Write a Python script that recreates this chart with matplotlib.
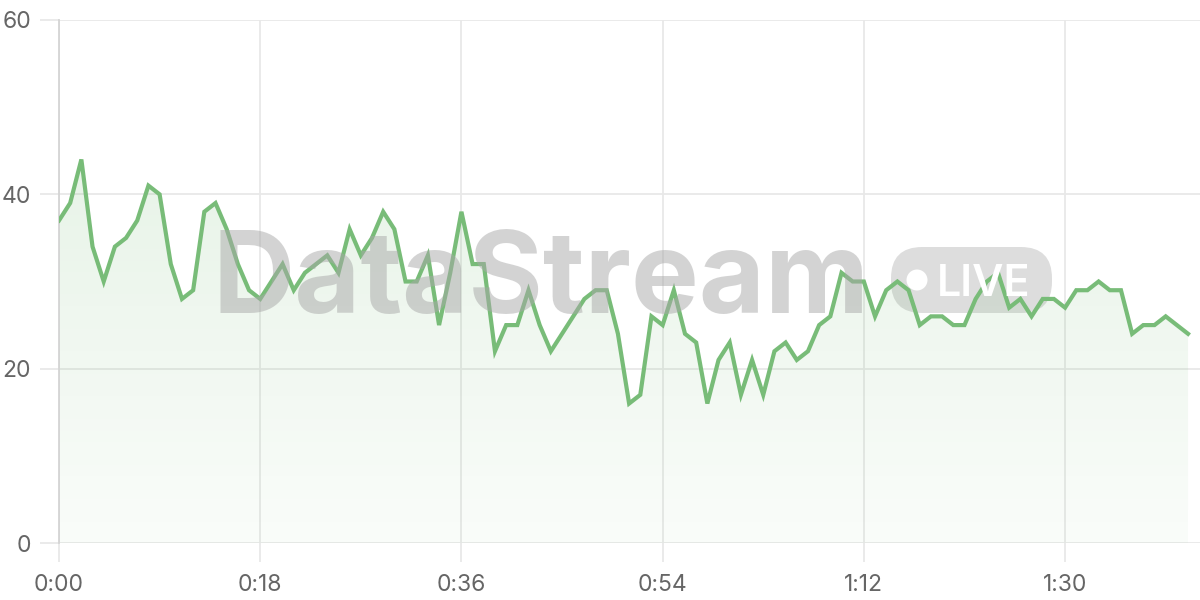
import numpy as np
import matplotlib
matplotlib.use("Agg")
import matplotlib.pyplot as plt
from matplotlib.patches import FancyBboxPatch, Ellipse, Polygon
from matplotlib.colors import LinearSegmentedColormap

# ======================================================
# DATA
# ======================================================

seconds = list(range(102))

values = [
    37, 39, 44, 34, 30, 34, 35, 37, 41, 40,
    32, 28, 29, 38, 39, 36, 32, 29, 28, 30,
    32, 29, 31, 32, 33, 31, 36, 33, 35, 38,
    36, 30, 30, 33, 25, 31, 38, 32, 32, 22,
    25, 25, 29, 25, 22, 24, 26, 28, 29, 29,
    24, 16, 17, 26, 25, 29, 24, 23, 16, 21,
    23, 17, 21, 17, 22, 23, 21, 22, 25, 26,
    31, 30, 30, 26, 29, 30, 29, 25, 26, 26,
    25, 25, 28, 30, 31, 27, 28, 26, 28, 28,
    27, 29, 29, 30, 29, 29, 24, 25, 25, 26,
    25, 24
]

x_ticks = [0, 18, 36, 54, 72, 90]
y_ticks = [0, 20, 40, 60]

LINE = "#78bc78"
GRID = "#e8e8e8"
TEXT = "#666666"

plt.rcParams["font.family"] = ["Inter", "DejaVu Sans"]

# ======================================================
# FIGURE
# ======================================================

fig = plt.figure(figsize=(12, 6), dpi=100)
ax = fig.add_axes([59 / 1200, 57 / 600, 1141 / 1200, 523 / 600])

ax.set_xlim(0, 102.07)
ax.set_ylim(0, 60)

# watermark (behind the fill)
fig.text(541 / 1200, 1 - 313 / 600, "DataStream", fontsize=82,
         fontweight="bold", color="#a8a8a8", alpha=0.5,
         ha="center", va="baseline", zorder=0)

pill = FancyBboxPatch((891 / 1200, 1 - 313 / 600), 161 / 1200, 66 / 600,
                      boxstyle="round,pad=0,rounding_size=0.026",
                      mutation_aspect=2, transform=fig.transFigure,
                      facecolor="#bcbcbc", edgecolor="none", alpha=0.5,
                      zorder=0)
fig.add_artist(pill)
fig.add_artist(Ellipse((917 / 1200, 1 - 280 / 600), 21 / 1200, 21 / 600,
                       transform=fig.transFigure, facecolor="white",
                       edgecolor="none", zorder=0.5))
fig.text(937 / 1200, 1 - 296 / 600, "LIVE", fontsize=31,
         fontweight="semibold", color="white", ha="left",
         va="baseline", zorder=0.6)

ax.patch.set_alpha(0)

# gradient fill under the line
gradient = LinearSegmentedColormap.from_list(
    "fade", [(0.47, 0.74, 0.47, 0.04), (0.47, 0.74, 0.47, 0.22)])
img = ax.imshow(np.linspace(0, 1, 256).reshape(-1, 1), cmap=gradient,
                extent=[0, seconds[-1], 0, 60], origin="lower",
                aspect="auto", zorder=1)
poly = Polygon(list(zip(seconds, values)) + [(seconds[-1], 0), (0, 0)],
               closed=True, facecolor="none", edgecolor="none")
ax.add_patch(poly)
img.set_clip_path(poly)

ax.plot(seconds, values, color=LINE, linewidth=3, zorder=3,
        solid_joinstyle="miter")

# ======================================================
# AXES
# ======================================================

ax.set_xticks(x_ticks)
ax.set_xticklabels([f"{s // 60}:{s % 60:02d}" for s in x_ticks])
ax.set_yticks(y_ticks)

ax.grid(True, color=GRID, linewidth=1.3, zorder=0)
ax.set_axisbelow(True)

ax.tick_params(axis="both", colors=GRID, labelcolor=TEXT, labelsize=16.5,
               length=14, width=1.3)
ax.tick_params(axis="x", pad=8)
ax.tick_params(axis="y", pad=6)

for side in ["top", "right", "bottom"]:
    ax.spines[side].set_visible(False)
ax.spines["left"].set_color("#d4d4d4")
ax.spines["left"].set_linewidth(1.3)

fig.savefig("out.png", dpi=100)
